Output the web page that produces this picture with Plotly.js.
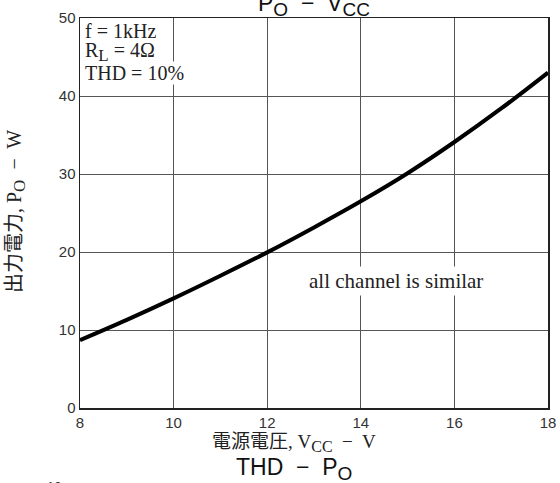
<!DOCTYPE html>
<html><head><meta charset="utf-8">
<script src="https://cdn.plot.ly/plotly-3.0.1.min.js"></script>
<style>body{margin:0;padding:0;background:#fff}</style>
</head><body>
<div id="chart" style="width:560px;height:483px"></div>
<script>
const vcc = [8, 9, 10, 11, 12, 13, 14, 15, 16, 17, 18];
const po  = [8.7, 11.3, 14.05, 16.95, 19.95, 23.15, 26.5, 30.1, 34.1, 38.4, 43.0];
const xTicks = [8, 10, 12, 14, 16, 18];
const yTicks = [0, 10, 20, 30, 40, 50];
const conditions = ['f = 1kHz', 'R<sub><span style="font-size:17px">L</span></sub> = 4Ω', 'THD = 10%'];

const serif = '"Liberation Serif", "Noto Sans CJK JP", serif';
const sans = '"Liberation Sans", Arial, sans-serif';
const W = 560, H = 483, L = 80, R = 12, T = 18, B = 75;
const px2x = p => (p - L) / (W - L - R);
const px2y = p => (H - B - p) / (H - T - B);

const data = [{
  x: vcc, y: po, type: 'scatter', mode: 'lines',
  line: {color: '#000', width: 4, shape: 'spline', smoothing: 1},
  hoverinfo: 'skip', showlegend: false
}];

const condY = [31, 52, 73];
const annotations = conditions.map((t, i) => ({
  xref: 'paper', yref: 'paper', x: px2x(84), y: px2y(condY[i]), xanchor: 'left', yanchor: 'middle',
  text: t, showarrow: false, font: {family: serif, size: 20, color: '#222'}, bgcolor: '#fff', borderpad: 0
}));

annotations.push(
  {xref: 'paper', yref: 'paper', x: 0.5, y: 1, yshift: -4, xanchor: 'center', yanchor: 'bottom',
   text: 'P<sub><span style="font-size:19px">O</span></sub>  −  V<sub><span style="font-size:19px">CC</span></sub>', showarrow: false,
   font: {family: sans, size: 23, color: '#111'}},
  {xref: 'x', yref: 'y', x: 14.75, y: 16.3, xanchor: 'center', yanchor: 'middle',
   text: 'all channel is similar', showarrow: false,
   font: {family: serif, size: 21, color: '#222'}, bgcolor: '#fff', borderpad: 2},
  {xref: 'paper', yref: 'paper', x: px2x(294), y: px2y(443), xanchor: 'center', yanchor: 'middle',
   text: '電源電圧, V<sub><span style="font-size:16px">CC</span></sub>  −  V', showarrow: false,
   font: {family: serif, size: 19, color: '#222'}},
  {xref: 'paper', yref: 'paper', x: px2x(16), y: px2y(212), xanchor: 'center', yanchor: 'middle', textangle: -90,
   text: '出力電力, P<sub><span style="font-size:17px">O</span></sub>  −  W', showarrow: false,
   font: {family: serif, size: 20, color: '#222'}},
  {xref: 'paper', yref: 'paper', x: px2x(294), y: px2y(469), xanchor: 'center', yanchor: 'middle',
   text: 'THD  −  P<sub><span style="font-size:19px">O</span></sub>', showarrow: false,
   font: {family: sans, size: 23, color: '#111'}},
  {xref: 'paper', yref: 'paper', x: px2x(63), y: px2y(477), xanchor: 'right', yanchor: 'top',
   text: '10', showarrow: false,
   font: {family: sans, size: 13, color: '#333'}}
);

const layout = {
  width: W, height: H,
  margin: {l: L, r: R, t: T, b: B},
  paper_bgcolor: '#fff', plot_bgcolor: '#fff',
  xaxis: {range: [8, 18], tickvals: xTicks, ticktext: xTicks.map(String),
          showgrid: true, gridcolor: '#555', gridwidth: 1, zeroline: false,
          showline: true, linecolor: '#222', linewidth: 1.5, mirror: true, ticks: '',
          tickfont: {family: sans, size: 15, color: '#333'}},
  yaxis: {range: [0, 50], tickvals: yTicks, ticktext: yTicks.map(String),
          showgrid: true, gridcolor: '#555', gridwidth: 1, zeroline: false,
          showline: true, linecolor: '#222', linewidth: 1.5, mirror: true, ticks: '',
          tickfont: {family: sans, size: 15, color: '#333'}},
  annotations: annotations
};

Plotly.newPlot('chart', data, layout, {displayModeBar: false, staticPlot: true});
</script>
</body></html>
